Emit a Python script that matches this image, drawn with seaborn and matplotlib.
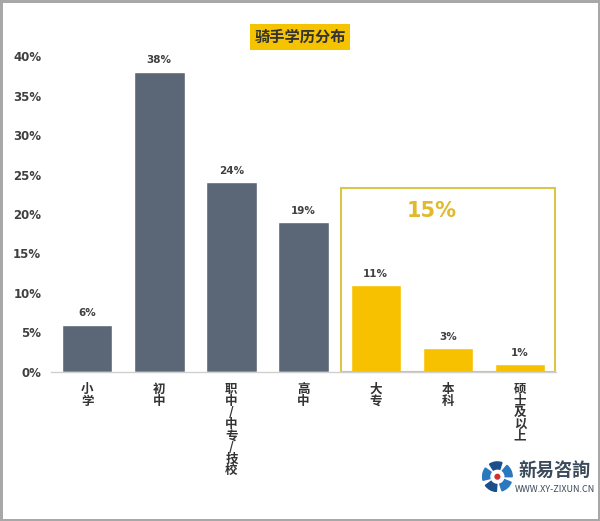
import matplotlib
matplotlib.use("Agg")
import matplotlib.pyplot as plt
import seaborn as sns
import pandas as pd
from matplotlib.patches import Rectangle, Circle, Wedge

categories = ["小学", "初中", "职中/中专/技校", "高中", "大专", "本科", "硕士及以上"]
values = [6, 38, 24, 19, 11, 3, 1]
groups = ["低", "低", "低", "低", "高", "高", "高"]
yticks = [0, 5, 10, 15, 20, 25, 30, 35, 40]
title = "骑手学历分布"
highlight_text = "15%"

sns.set_theme(style="white")
plt.rcParams['font.family'] = ['Noto Sans CJK SC', 'DejaVu Sans']

df = pd.DataFrame({"cat": categories, "val": values, "grp": groups})
palette = {"低": "#5b6677", "高": "#f7c100"}

fig = plt.figure(figsize=(6.0, 5.21), dpi=100)
fig.patch.set_facecolor("white")
fig.patch.set_edgecolor("#a8a8a8")
fig.patch.set_linewidth(2.5)
ax = fig.add_axes([0.085, 0.286, 0.842, 0.6065])
sns.barplot(data=df, x="cat", y="val", hue="grp", palette=palette, dodge=False,
            width=0.7, legend=False, ax=ax, saturation=1)

ax.set_ylim(0, 40)
ax.set_xlim(-0.5, 6.5)
ax.set_yticks(yticks)
ax.set_yticklabels([f"{t}%" for t in yticks], fontsize=8.5, color="#404040",
                   fontweight="bold", family="DejaVu Sans")
ax.tick_params(axis="y", length=0, pad=7)
ax.set_xlabel("")
ax.set_ylabel("")
for s in ["top", "right", "left"]:
    ax.spines[s].set_visible(False)
ax.spines["bottom"].set_color("#d0d0d0")
ax.spines["bottom"].set_linewidth(1)

ax.set_xticks(range(len(categories)))
ax.set_xticklabels(["\n".join(list(c)) for c in categories], fontsize=9,
                   color="#333333", linespacing=0.86, va="top", fontweight="bold")
ax.tick_params(axis="x", length=0, pad=8)

for i, v in enumerate(values):
    ax.text(i, v + 0.8, f"{v}%", ha="center", va="bottom", fontsize=7.5,
            color="#404040", fontweight="bold", family="DejaVu Sans")

rect = Rectangle((3.52, 0), 2.96, 23.3, fill=False, edgecolor="#dcc64a", linewidth=1.5,
                 clip_on=False)
ax.add_patch(rect)
ax.text(4.78, 20.4, highlight_text, ha="center", va="center", fontsize=15,
        color="#e2b92a", fontweight="bold", family="DejaVu Sans")

fig.text(0.5, 0.929, title, ha="center", va="center", fontsize=11, fontweight="bold",
         color="#333333",
         bbox=dict(boxstyle="square,pad=0.3", facecolor="#f5c300", edgecolor="none"))

# logo
lax = fig.add_axes([0.803, 0.05, 0.052, 0.07])
lax.set_xlim(-1, 1)
lax.set_ylim(-1, 1)
lax.set_aspect("equal")
lax.axis("off")
for k in range(5):
    lax.add_patch(Wedge((0, 0), 0.95, k * 72, k * 72 + 50, width=0.45,
                        color="#2a78c0" if k % 2 == 0 else "#1b4f8a"))
lax.add_patch(Circle((0, 0), 0.15, color="#d03030"))

fig.text(0.925, 0.098, "新易咨詢", ha="center", va="center", fontsize=13,
         fontweight="bold", color="#3a4a5a")
fig.text(0.925, 0.061, "WWW.XY-ZIXUN.CN", ha="center", va="center", fontsize=6.5,
         color="#3a4a5a")

fig.savefig("out.png", dpi=100)
